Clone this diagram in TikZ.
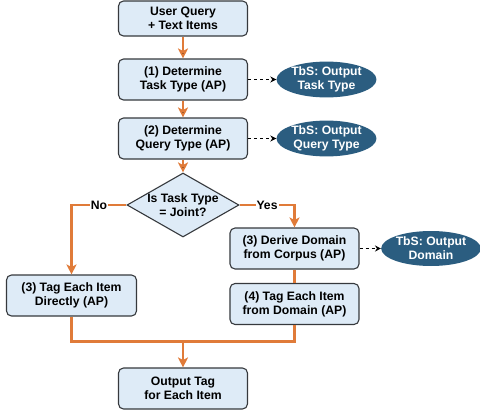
\documentclass[tikz,border=0pt]{standalone}
\usepackage{fontspec}
\setmainfont{Liberation Sans}
\usepackage{tikz}
\usetikzlibrary{shapes.geometric, arrows.meta, positioning, calc}
\definecolor{boxfill}{HTML}{DEEBF7}
\definecolor{boxline}{HTML}{36393D}
\definecolor{flowcol}{HTML}{E07B39}
\definecolor{tbsfill}{HTML}{2B5D80}
\newcommand{\flowfont}{\bfseries\fontsize{12.2}{14}\selectfont}
\tikzstyle{process} = [rectangle, rounded corners=5pt, draw=boxline, line width=1.1pt, fill=boxfill, minimum width=129pt, minimum height=41pt, inner sep=3pt, align=center, font=\flowfont]
\tikzstyle{decision} = [diamond, aspect=1.75, draw=boxline, line width=1.1pt, fill=boxfill, minimum width=112pt, minimum height=64pt, inner sep=-4pt, align=center, font=\flowfont]
\tikzstyle{tbs} = [ellipse, fill=tbsfill, text=white, minimum width=100pt, minimum height=35pt, inner sep=0pt, align=center, font=\flowfont]
\tikzstyle{flow} = [line width=2.2pt, draw=flowcol, -{Stealth[length=10pt,width=10pt,inset=2.5pt]}]
\tikzstyle{link} = [line width=2.2pt, draw=flowcol]
\tikzstyle{arrow} = [line width=1pt, dash pattern=on 3pt off 3pt, -{Stealth[length=6pt,width=6pt]}]

\begin{document}
\begin{tikzpicture}[node distance=60pt,on grid]
	\useasboundingbox (-183pt,18.5pt) rectangle (297pt,-396.5pt);
	\node[process, minimum height=35pt] (user) at (0,0) {User Query\\+ Text Items};
	\node[process][below=61pt of user](task){(1) Determine\\Task Type (AP)};
	\node[process][below=59pt of task](query){(2) Determine\\Query Type (AP)};
	\node[decision][below=66.5pt of query](joint){Is Task Type\\= Joint?};
	\node[process][below right=43.5pt and 111.5pt of joint](domain){(3) Derive Domain\\from Corpus (AP)};
	\node[process][below=55.5pt of domain](tagdom){(4) Tag Each Item\\from Domain (AP)};
	\node[process, minimum width=130pt][below left=90.5pt and 111.5pt of joint](tagdir){(3) Tag Each Item\\Directly (AP)};
	\node[process][below=183.5pt of joint](output){Output Tag\\for Each Item};
	\node[tbs][right=143.5pt of task](tasktype){TbS: Output\\Task Type};
	\node[tbs][right=143.5pt of query](querytype){TbS: Output\\Query Type};
	\node[tbs, minimum width=98pt][right=136.5pt of domain](domaintype){TbS: Output\\Domain};
	\coordinate[above=26pt of output.north](merge);
	% main flow
	\path[flow]
	(user) edge (task)
	(task) edge (query)
	(query) edge (joint);
	\draw[flow] (joint.west) -| node[pos=0.25, fill=white, inner sep=1pt, font=\flowfont]{No} (tagdir.north);
	\draw[flow] (joint.east) -| node[pos=0.25, fill=white, inner sep=1pt, font=\flowfont]{Yes} (domain.north);
	\draw[link] (domain) -- (tagdom);
	\draw[link] (tagdir.south) |- (merge) -| (tagdom.south);
	\draw[flow] (merge) -- (output);
	% tbs outputs
	\path[arrow]
	(task) edge (tasktype)
	(query) edge (querytype)
	(domain) edge (domaintype);
\end{tikzpicture}
\end{document}
